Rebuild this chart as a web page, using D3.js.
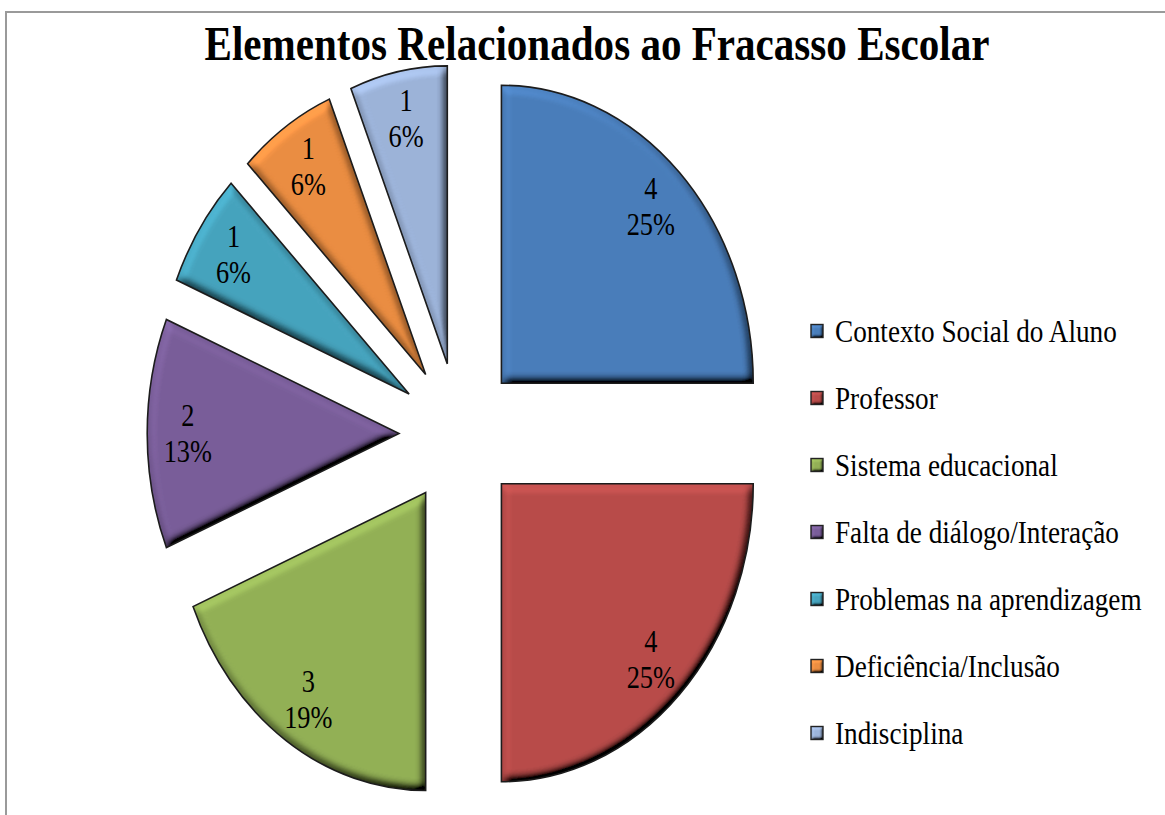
<!DOCTYPE html>
<html>
<head>
<meta charset="utf-8">
<script src="https://cdn.jsdelivr.net/npm/d3@7"></script>
<style>
  html, body { margin: 0; padding: 0; background: #fff; }
  svg { display: block; }
</style>
</head>
<body>
<svg id="chart" width="1165" height="815"></svg>
<script>
const title = "Elementos Relacionados ao Fracasso Escolar";
const categories = ["Contexto Social do Aluno", "Professor", "Sistema educacional",
  "Falta de diálogo/Interação", "Problemas na aprendizagem", "Deficiência/Inclusão", "Indisciplina"];
const values = [4, 4, 3, 2, 1, 1, 1];
const percentLabels = ["25%", "25%", "19%", "13%", "6%", "6%", "6%"];
const colors = ["#4A7EBB", "#B94C4A", "#93B156", "#7A5E9A", "#46A4BE", "#EC8E42", "#9DB4DA"];

const svg = d3.select("#chart");
const W = 1165, H = 815;
const defs = svg.append("defs");
const serif = "'Liberation Serif','Times New Roman',serif";

function makeBevel(id, std, scale) {
  const f = defs.append("filter").attr("id", id)
    .attr("x", "-10%").attr("y", "-10%").attr("width", "120%").attr("height", "120%");
  f.append("feGaussianBlur").attr("in", "SourceAlpha").attr("stdDeviation", std).attr("result", "blur");
  f.append("feDiffuseLighting").attr("in", "blur").attr("surfaceScale", scale).attr("diffuseConstant", 1)
    .attr("lighting-color", "#ffffff").attr("result", "light")
    .append("feDistantLight").attr("azimuth", 235).attr("elevation", 50);
  f.append("feComposite").attr("in", "SourceGraphic").attr("in2", "light")
    .attr("operator", "arithmetic").attr("k1", 1.3).attr("k2", 0).attr("k3", 0).attr("k4", 0)
    .attr("result", "lit");
  f.append("feComposite").attr("in", "lit").attr("in2", "SourceAlpha").attr("operator", "in");
}
makeBevel("bevel", 5, 9);
makeBevel("bevelSmall", 1.5, 3);

// frame
svg.append("path").attr("d", `M6,${H} L6,12 L${W},12`).attr("fill", "none")
  .attr("stroke", "#9a9a9a").attr("stroke-width", 2);

// title
svg.append("text")
  .attr("x", 597).attr("y", 60)
  .attr("text-anchor", "middle")
  .attr("font-family", serif)
  .attr("font-weight", "bold").attr("font-size", 48)
  .attr("textLength", 785).attr("lengthAdjust", "spacingAndGlyphs")
  .text(title);

// pie
const cx = 459, cy = 433.5, sx = 0.845;
const R = 298, explode = 71, labelR = 250;
const pie = d3.pie().sort(null).value(d => d)(values);
const arc = d3.arc().innerRadius(0).outerRadius(R);
const labelArc = d3.arc().innerRadius(labelR).outerRadius(labelR);

const g = svg.append("g").attr("transform", `translate(${cx},${cy}) scale(${sx},1)`);
const offs = pie.map(p => {
  const a = (p.startAngle + p.endAngle) / 2;
  return [explode * Math.sin(a), -explode * Math.cos(a)];
});

g.selectAll("path.slice").data(pie).enter().append("path")
  .attr("class", "slice")
  .attr("transform", (d, i) => `translate(${offs[i][0]},${offs[i][1]})`)
  .attr("d", arc)
  .attr("fill", (d, i) => colors[i])
  .attr("filter", "url(#bevel)");

g.selectAll("path.outline").data(pie).enter().append("path")
  .attr("class", "outline")
  .attr("transform", (d, i) => `translate(${offs[i][0]},${offs[i][1]})`)
  .attr("d", arc)
  .attr("fill", "none")
  .attr("stroke", "#1c1c1c").attr("stroke-width", 1.6)
  .attr("stroke-linejoin", "miter")
  .attr("vector-effect", "non-scaling-stroke");

// data labels
const lab = svg.append("g")
  .attr("font-family", serif)
  .attr("font-size", 31).attr("fill", "#000").attr("text-anchor", "middle");
pie.forEach((p, i) => {
  const c = labelArc.centroid(p);
  const x = cx + sx * (c[0] + offs[i][0]);
  const y = cy + c[1] + offs[i][1];
  const t = lab.append("g").attr("transform", `translate(${x},${y}) scale(0.85,1)`)
    .append("text");
  t.append("tspan").attr("x", 0).attr("y", -8).text(values[i]);
  t.append("tspan").attr("x", 0).attr("y", 28).text(percentLabels[i]);
});

// legend
const lg = svg.append("g").attr("transform", "translate(811,331)");
const items = lg.selectAll("g").data(categories).enter().append("g")
  .attr("transform", (d, i) => `translate(0,${i * 67})`);
items.append("rect").attr("x", 0).attr("y", -6.5).attr("width", 12).attr("height", 13)
  .attr("fill", (d, i) => colors[i])
  .attr("filter", "url(#bevelSmall)");
items.append("rect").attr("x", 0).attr("y", -6.5).attr("width", 12).attr("height", 13)
  .attr("fill", "none").attr("stroke", "#222").attr("stroke-width", 1.4);
items.append("g").attr("transform", "translate(24,11) scale(0.85,1)")
  .append("text").attr("x", 0).attr("y", 0)
  .attr("font-family", serif)
  .attr("font-size", 32).attr("fill", "#000")
  .text(d => d);
</script>
</body>
</html>
